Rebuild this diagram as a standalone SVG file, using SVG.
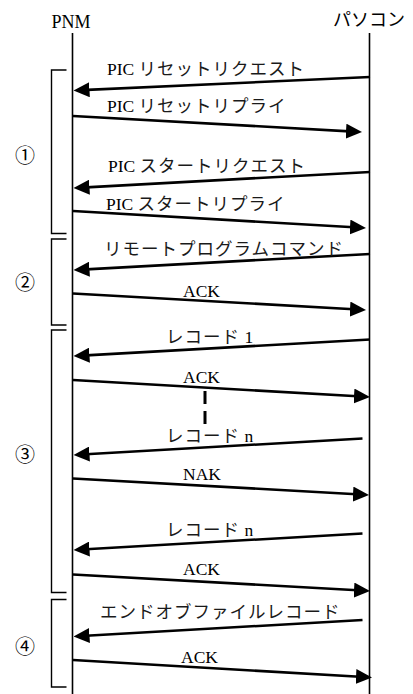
<svg xmlns="http://www.w3.org/2000/svg" width="413" height="694" viewBox="0 0 413 694">
  <style>
    .bg { fill: #ffffff; }
    .life { stroke: #000; stroke-width: 1.6; fill: none; }
    .brk { stroke: #000; stroke-width: 1.4; fill: none; }
    .msg { stroke: #000; stroke-width: 2.6; fill: none; marker-end: url(#head); }
    .dash { stroke: #000; stroke-width: 3; stroke-dasharray: 13 7; fill: none; }
    text { font-family: "Liberation Serif", "Noto Sans CJK JP", serif; fill: #000; }
    .lbl { font-size: 17.5px; }
    .jp { letter-spacing: 1px; fill: #1a1a1a; }
    .head-t { font-size: 18px; text-anchor: middle; }
    .num { font-size: 20px; text-anchor: middle; dominant-baseline: central; }
  </style>
  <defs>
    <marker id="head" viewBox="0 0 16 15" markerWidth="16" markerHeight="15" markerUnits="userSpaceOnUse" refX="8" refY="7.5" orient="auto">
      <path d="M0,0 L16,7.5 L0,15 z" fill="#000"/>
    </marker>
  </defs>
  <rect class="bg" x="0" y="0" width="413" height="694"/>

  <!-- participants -->
  <g id="pnm">
    <text class="head-t" x="71" y="28">PNM</text>
    <line class="life" x1="72.5" y1="33" x2="72.5" y2="694"/>
  </g>
  <g id="pc">
    <text class="head-t" x="369" y="26">パソコン</text>
    <line class="life" x1="369.5" y1="33" x2="369.5" y2="694"/>
  </g>

  <!-- phase brackets and their numbers -->
  <g id="phase1">
    <path class="brk" d="M66.5,70 H51.5 V233.5 H66.5"/>
    <text class="num" x="25" y="156">①</text>
  </g>
  <g id="phase2">
    <path class="brk" d="M66.5,239 H51.5 V325 H66.5"/>
    <text class="num" x="25" y="283">②</text>
  </g>
  <g id="phase3">
    <path class="brk" d="M66.5,330 H51.5 V592.5 H66.5"/>
    <text class="num" x="25" y="455">③</text>
  </g>
  <g id="phase4">
    <path class="brk" d="M66.5,599.5 H51.5 V687 H66.5"/>
    <text class="num" x="25" y="647">④</text>
  </g>

  <!-- messages -->
  <g id="connectors">
    <line class="msg" x1="370" y1="77" x2="81.5" y2="90.1"/>
    <line class="msg" x1="73" y1="116" x2="354" y2="131.6"/>
    <line class="msg" x1="370" y1="172" x2="81.5" y2="187.6"/>
    <line class="msg" x1="73" y1="211" x2="358" y2="227.5"/>
    <line class="msg" x1="370" y1="254" x2="81.5" y2="269.6"/>
    <line class="msg" x1="73" y1="293.5" x2="358" y2="309.5"/>
    <line class="msg" x1="370" y1="339.5" x2="81.5" y2="355.6"/>
    <line class="msg" x1="73" y1="380" x2="362" y2="396.5"/>
    <line class="dash" x1="205" y1="391" x2="205" y2="424"/>
    <line class="msg" x1="362.5" y1="438.5" x2="81.5" y2="454.5"/>
    <line class="msg" x1="73" y1="478.5" x2="361" y2="494.5"/>
    <line class="msg" x1="362.5" y1="533.5" x2="81.5" y2="549.5"/>
    <line class="msg" x1="73" y1="574.5" x2="362" y2="590.5"/>
    <line class="msg" x1="362.5" y1="620" x2="81.5" y2="636"/>
    <line class="msg" x1="73" y1="660" x2="364" y2="677"/>
  </g>

  <!-- message labels -->
  <g id="labels">
    <text class="lbl" x="107" y="75">PIC <tspan class="jp">リセットリクエスト</tspan></text>
    <text class="lbl" x="107" y="112">PIC <tspan class="jp">リセットリプライ</tspan></text>
    <text class="lbl" x="108" y="172">PIC <tspan class="jp">スタートリクエスト</tspan></text>
    <text class="lbl" x="106" y="210">PIC <tspan class="jp">スタートリプライ</tspan></text>
    <text class="lbl" x="104" y="255"><tspan class="jp">リモートプログラムコマンド</tspan></text>
    <text class="lbl" x="183" y="297">ACK</text>
    <text class="lbl" x="166" y="343"><tspan class="jp">レコード</tspan> 1</text>
    <text class="lbl" x="183" y="382.5">ACK</text>
    <text class="lbl" x="166" y="441.5"><tspan class="jp">レコード</tspan> n</text>
    <text class="lbl" x="183" y="480">NAK</text>
    <text class="lbl" x="166" y="536"><tspan class="jp">レコード</tspan> n</text>
    <text class="lbl" x="183" y="575">ACK</text>
    <text class="lbl" x="100" y="618"><tspan class="jp">エンドオブファイルレコード</tspan></text>
    <text class="lbl" x="181" y="663">ACK</text>
  </g>
</svg>
